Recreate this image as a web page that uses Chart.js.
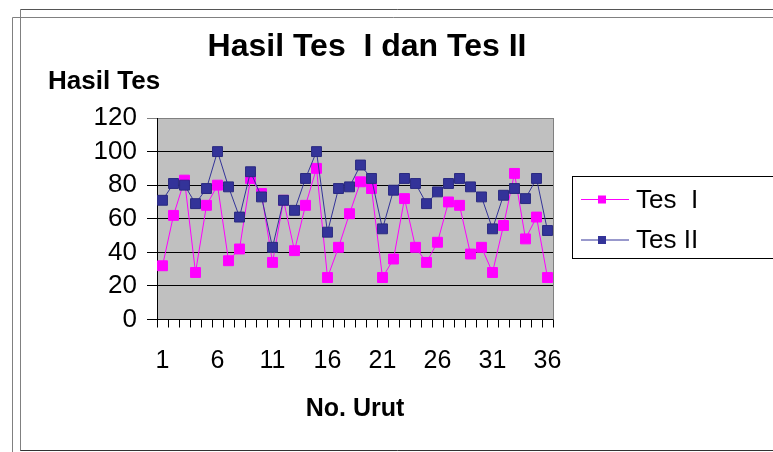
<!DOCTYPE html>
<html><head><meta charset="utf-8">
<script src="https://cdn.jsdelivr.net/npm/chart.js@4"></script>
<style>html,body{margin:0;padding:0;background:#fff}#wrap{width:773px;height:452px;position:relative}</style>
</head><body>
<div id="wrap"><canvas id="c" width="773" height="452"></canvas></div>
<script>
const noUrut=Array.from({length:36},(_,i)=>String(i+1));
const tesI=[32,62,83,28,68,80,35,42,84,75,34,71,41,68,90,25,43,63,82,78,25,36,72,43,34,46,70,68,39,43,28,56,87,48,61,25];
const tesII=[71,81,80,69,78,100,79,61,88,73,43,71,65,84,100,52,78,79,92,84,54,77,84,81,69,76,81,84,79,73,54,74,78,72,84,53];
const yMin=0,yMax=120,yStep=20;
const FONT='"Liberation Sans", Arial, sans-serif';
const PINK='#ff00ff',BLUE='#333399';

// frames, plot background, title, y caption, legend
const decor={
  id:'decor',
  beforeDraw(ch){
    const {ctx,chartArea:a}=ch;
    ctx.save();
    ctx.fillStyle='#c0c0c0'; ctx.fillRect(a.left,a.top,a.right-a.left,a.bottom-a.top);
    ctx.lineWidth=1;
    ctx.strokeStyle='#808080';
    ctx.beginPath(); ctx.moveTo(12.5,460); ctx.lineTo(12.5,17.5); ctx.lineTo(780,17.5); ctx.stroke();
    ctx.beginPath(); ctx.moveTo(20.5,451); ctx.lineTo(20.5,9.5); ctx.stroke();
    ctx.strokeStyle='#555';
    ctx.beginPath(); ctx.moveTo(20.5,9.5); ctx.lineTo(780,9.5); ctx.stroke();
    ctx.strokeStyle='#333';
    ctx.beginPath(); ctx.moveTo(20.5,450.5); ctx.lineTo(780,450.5); ctx.stroke();
    ctx.restore();
  },
  afterDraw(ch){
    const {ctx,chartArea:a}=ch;
    ctx.save();
    ctx.strokeStyle='#808080'; ctx.lineWidth=1;
    ctx.beginPath(); ctx.moveTo(Math.round(a.right)+0.5,a.top); ctx.lineTo(Math.round(a.right)+0.5,a.bottom); ctx.stroke();
    ctx.fillStyle='#000'; ctx.textBaseline='alphabetic';
    ctx.font='bold 32px '+FONT; ctx.textAlign='center';
    ctx.fillText('Hasil Tes  I dan Tes II',367,56);
    ctx.font='bold 26px '+FONT; ctx.textAlign='left';
    ctx.fillText('Hasil Tes',48,89);
    // legend
    ctx.strokeStyle='#000';
    ctx.strokeRect(572.5,176.5,220,82);
    ch.data.datasets.forEach((d,i)=>{
      const y=199.5+i*40.5;
      ctx.strokeStyle=d.borderColor; ctx.lineWidth=1;
      ctx.beginPath(); ctx.moveTo(581,y); ctx.lineTo(629,y); ctx.stroke();
      ctx.fillStyle=d.pointBackgroundColor; ctx.fillRect(598,y-4,8,8);
      ctx.fillStyle='#000'; ctx.font='26px '+FONT; ctx.textBaseline='middle';
      ctx.fillText(d.label,636,y+1);
    });
    ctx.restore();
  }
};

new Chart(document.getElementById('c'),{
  type:'line',
  data:{labels:noUrut,datasets:[
    {label:'Tes  I',data:tesI,borderColor:PINK,backgroundColor:PINK,pointBackgroundColor:PINK,pointBorderColor:PINK,
     borderWidth:1,pointStyle:'rect',pointRadius:7,pointBorderWidth:1,tension:0,order:2},
    {label:'Tes II',data:tesII,borderColor:BLUE,backgroundColor:BLUE,pointBackgroundColor:BLUE,pointBorderColor:'#2a2a80',
     borderWidth:1,pointStyle:'rect',pointRadius:7,pointBorderWidth:1,tension:0,order:1}
  ]},
  options:{
    responsive:false,animation:false,
    layout:{padding:{left:0,top:118,right:220,bottom:28}},
    plugins:{legend:{display:false},title:{display:false},tooltip:{enabled:false}},
    scales:{
      x:{offset:true,
        grid:{offset:true,drawOnChartArea:false,drawTicks:true,tickLength:8,color:'#000'},
        border:{color:'#000',width:1},
        ticks:{autoSkip:false,maxRotation:0,padding:19,color:'#000',font:{family:FONT,size:25},
          callback:(v,i)=>i%5===0?noUrut[i]:''},
        title:{display:true,text:'No. Urut',color:'#000',font:{family:FONT,size:25,weight:'bold'},padding:{top:0,bottom:0}},
        afterFit:s=>{s.height=104.5}
      },
      y:{min:yMin,max:yMax,
        grid:{color:c=>c.tick&&c.tick.value===yMax?'#808080':'#000',drawTicks:true,tickLength:10},
        border:{color:'#000',width:1},
        ticks:{stepSize:yStep,autoSkip:false,padding:10,color:'#000',font:{family:FONT,size:26}},
        afterFit:s=>{s.width=157}
      }
    }
  },
  plugins:[decor]
});
</script>
</body></html>
